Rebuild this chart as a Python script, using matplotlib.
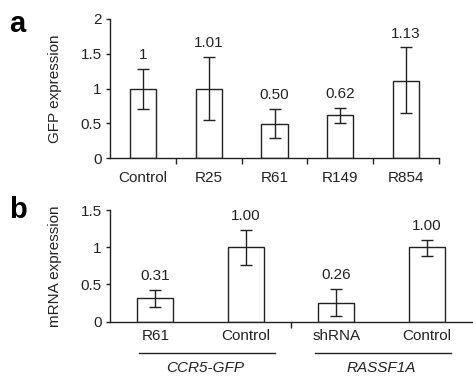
import matplotlib
matplotlib.use("Agg")
import matplotlib.pyplot as plt
from matplotlib.transforms import blended_transform_factory

plt.rcParams['font.family'] = ['Liberation Sans', 'DejaVu Sans']

# Panel a data
a_labels = ["Control", "R25", "R61", "R149", "R854"]
a_values = [0.99, 1.00, 0.485, 0.62, 1.11]
a_err_hi = [1.28, 1.46, 0.70, 0.72, 1.59]
a_err_lo = [0.70, 0.55, 0.29, 0.50, 0.65]
a_text = ["1", "1.01", "0.50", "0.62", "1.13"]

# Panel b data
b_labels = ["R61", "Control", "shRNA", "Control"]
b_values = [0.32, 1.00, 0.255, 1.00]
b_err_hi = [0.42, 1.23, 0.44, 1.10]
b_err_lo = [0.20, 0.76, 0.07, 0.88]
b_text = ["0.31", "1.00", "0.26", "1.00"]
b_groups = ["CCR5-GFP", "RASSF1A"]
b_group_centers = [0.55, 2.5]

W, H = 473, 376
LC = "#222222"
fig = plt.figure(figsize=(W / 100, H / 100), dpi=100)


def px_axes(left, top, right, bottom):
    return fig.add_axes([left / W, 1 - bottom / H, (right - left) / W, (bottom - top) / H])


def draw_bars(ax, values, hi, lo, texts):
    x = range(len(values))
    ax.bar(x, values, width=0.4, color="white", edgecolor=LC, linewidth=1.0, zorder=2)
    yerr = [[v - l for v, l in zip(values, lo)], [h - v for v, h in zip(values, hi)]]
    ax.errorbar(x, values, yerr=yerr, fmt="none", ecolor=LC, elinewidth=1.0,
                capsize=4.5, capthick=1.0, zorder=3)
    for xi, h, t in zip(x, hi, texts):
        ax.annotate(t, (xi, h), xytext=(0, 5), textcoords="offset points",
                    ha="center", va="bottom", fontsize=11, color=LC)


def style(ax):
    for s in ["top", "right"]:
        ax.spines[s].set_visible(False)
    for s in ["left", "bottom"]:
        ax.spines[s].set_color(LC)
        ax.spines[s].set_linewidth(1.0)
    ax.tick_params(axis="y", direction="out", length=3, width=1.0, color=LC,
                   labelsize=11, labelcolor=LC, pad=3)


# Panel a
ax1 = px_axes(110, 19, 439, 158)
draw_bars(ax1, a_values, a_err_hi, a_err_lo, a_text)
style(ax1)
ax1.set_xlim(-0.5, len(a_values) - 0.5)
ax1.set_ylim(0, 2)
ax1.set_yticks([0, 0.5, 1, 1.5, 2])
ax1.set_yticklabels(["0", "0.5", "1", "1.5", "2"])
ax1.set_xticks([i + 0.5 for i in range(len(a_values))])
ax1.set_xticklabels([])
ax1.set_xticks(range(len(a_values)), minor=True)
ax1.set_xticklabels(a_labels, minor=True)
ax1.tick_params(axis="x", which="major", direction="out", length=4, width=1.0, color=LC)
ax1.tick_params(axis="x", which="minor", length=0, labelsize=11, labelcolor=LC, pad=9)
ax1.set_ylabel("GFP expression", fontsize=11, color=LC)
ax1.yaxis.set_label_coords(-0.146, 0.5)

# Panel b
ax2 = px_axes(110, 210, 472, 321.7)
draw_bars(ax2, b_values, b_err_hi, b_err_lo, b_text)
style(ax2)
ax2.set_xlim(-0.5, len(b_values) - 0.5)
ax2.set_ylim(0, 1.5)
ax2.set_yticks([0, 0.5, 1, 1.5])
ax2.set_yticklabels(["0", "0.5", "1", "1.5"])
ax2.set_xticks([1.5])
ax2.set_xticklabels([])
ax2.set_xticks(range(len(b_values)), minor=True)
ax2.set_xticklabels(b_labels, minor=True)
ax2.tick_params(axis="x", which="major", direction="out", length=4, width=1.0, color=LC)
ax2.tick_params(axis="x", which="minor", length=0, labelsize=11, labelcolor=LC, pad=5)
ax2.set_ylabel("mRNA expression", fontsize=11, color=LC)
ax2.yaxis.set_label_coords(-0.132, 0.5)

trans = blended_transform_factory(ax2.transData, fig.transFigure)
for g, c in zip(b_groups, b_group_centers):
    ax2.plot([c - 0.73, c + 0.77], [1 - 353.3 / H] * 2, color=LC, lw=1.0,
             transform=trans, clip_on=False)
    ax2.text(c, 1 - 368 / H, g, transform=trans, ha="center", va="center",
             fontsize=11, style="italic", color=LC)

fig.text(9 / W, 1 - 24 / H, "a", fontsize=21, fontweight="bold", ha="left", va="center")
fig.text(9 / W, 1 - 210 / H, "b", fontsize=21, fontweight="bold", ha="left", va="center")

fig.savefig("out.png", dpi=100)
